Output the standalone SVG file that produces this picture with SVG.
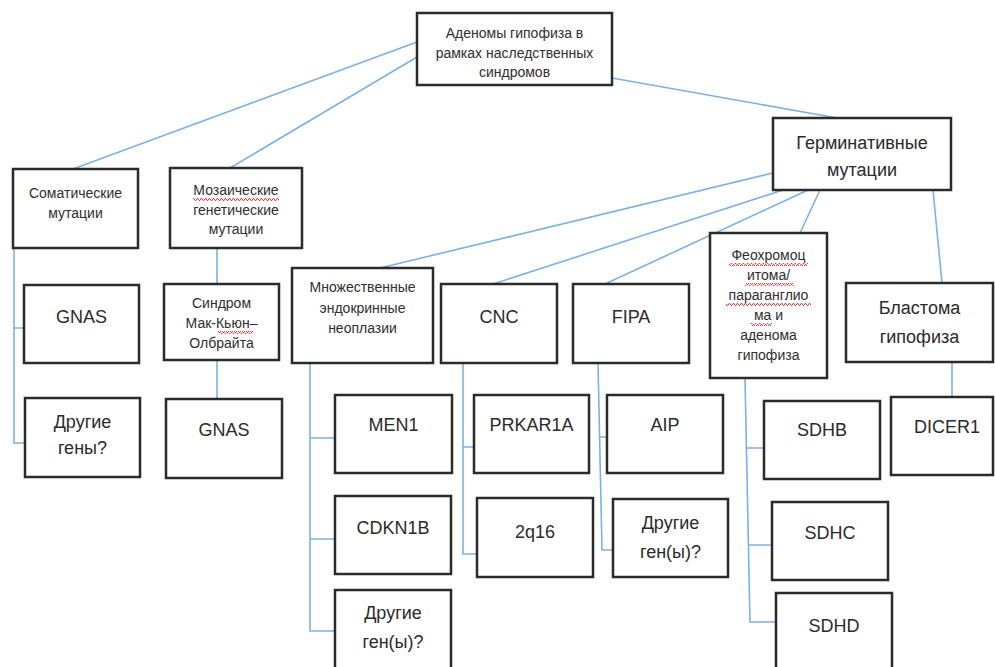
<svg xmlns="http://www.w3.org/2000/svg" width="995" height="667" viewBox="0 0 995 667">
<defs>
<style>
.box{fill:#fff;stroke:#2b2b2b;stroke-width:2.5}
.s{font-family:"Liberation Sans",Arial,sans-serif;font-size:14px;fill:#2e2e2e;text-anchor:middle}
.b{font-family:"Liberation Sans",Arial,sans-serif;font-size:18px;fill:#2a2a2a;text-anchor:middle}
.c{fill:none;stroke:#7eb1e3;stroke-width:1.6}
.sq{fill:url(#wave)}
</style>
<pattern id="wave" patternUnits="userSpaceOnUse" width="4" height="3">
<path d="M0,2.5 L1,0.5 L2,0.5 L3,2.5 L4,2.5" fill="none" stroke="#e03030" stroke-width="0.9"/>
</pattern>
</defs>
<rect width="995" height="667" fill="#fff"/>
<g id="connectors">
<path class="c" d="M417,42 L73,169"/>
<path class="c" d="M417,57 L230,168"/>
<path class="c" d="M612,78 L837,118"/>
<path class="c" d="M14,248 V443 H25 M14,328 H24"/>
<path class="c" d="M217,248 V284 M217,360 V399"/>
<path class="c" d="M773,173 L380,268"/>
<path class="c" d="M783,190 L493,284"/>
<path class="c" d="M808,190 L605,284"/>
<path class="c" d="M820,190 L800,233"/>
<path class="c" d="M933,190 L942,283"/>
<path class="c" d="M310,363 V631 H335 M310,438 H335 M310,539 H335"/>
<path class="c" d="M463,363 V554 H477 M463,447 H474"/>
<path class="c" d="M598,363 L602,550 H613 M600,437 H607"/>
<path class="c" d="M745,378 L750,622 H776 M747,448 H764 M749,545 H772"/>
<path class="c" d="M952,362 V397"/>
</g>
<g id="root"><rect class="box" x="417" y="13" width="195" height="72"/>
<text class="s" x="514.5" y="38">Аденомы гипофиза в</text>
<text class="s" x="514.5" y="58">рамках наследственных</text>
<text class="s" x="514.5" y="77">синдромов</text></g>
<g id="somatic"><rect class="box" x="13" y="169" width="125" height="79"/>
<text class="s" x="75.5" y="198">Соматические</text>
<text class="s" x="75.5" y="218">мутации</text></g>
<g id="mosaic"><rect class="box" x="170" y="168" width="132" height="80"/>
<text class="s" x="236" y="195">Мозаические</text>
<text class="s" x="236" y="215">генетические</text>
<text class="s" x="236" y="234">мутации</text>
<rect class="sq" x="193" y="198" width="86" height="3"/></g>
<g id="germ"><rect class="box" x="773" y="118" width="178" height="72"/>
<text class="b" x="862" y="149">Герминативные</text>
<text class="b" x="862" y="176">мутации</text></g>
<g id="gnas1"><rect class="box" x="24" y="285" width="115" height="78"/>
<text class="b" x="81.5" y="323">GNAS</text></g>
<g id="other1"><rect class="box" x="25" y="398" width="115" height="79"/>
<text class="b" x="82.5" y="428">Другие</text>
<text class="b" x="82.5" y="454">гены?</text></g>
<g id="mccune"><rect class="box" x="164" y="284" width="115" height="76"/>
<text class="s" x="221.5" y="308">Синдром</text>
<text class="s" x="221.5" y="328">Мак-Кьюн–</text>
<text class="s" x="221.5" y="348">Олбрайта</text>
<rect class="sq" x="218" y="331" width="35" height="3"/></g>
<g id="gnas2"><rect class="box" x="166" y="399" width="116" height="79"/>
<text class="b" x="224" y="436">GNAS</text></g>
<g id="men"><rect class="box" x="292" y="268" width="141" height="95"/>
<text class="s" x="362.5" y="292">Множественные</text>
<text class="s" x="362.5" y="313">эндокринные</text>
<text class="s" x="362.5" y="333">неоплазии</text></g>
<g id="cnc"><rect class="box" x="441" y="284" width="116" height="79"/>
<text class="b" x="499" y="323">CNC</text></g>
<g id="fipa"><rect class="box" x="573" y="284" width="116" height="79"/>
<text class="b" x="631" y="323">FIPA</text></g>
<g id="pheo"><rect class="box" x="710" y="233" width="117" height="145"/>
<text class="s" x="768.5" y="260">Феохромоц</text>
<text class="s" x="768.5" y="280">итома/</text>
<text class="s" x="768.5" y="300">параганглио</text>
<text class="s" x="768.5" y="320">ма и</text>
<text class="s" x="768.5" y="340">аденома</text>
<text class="s" x="768.5" y="360">гипофиза</text>
<rect class="sq" x="729" y="263" width="79" height="3"/>
<rect class="sq" x="745" y="283" width="49" height="3"/>
<rect class="sq" x="726" y="303" width="85" height="3"/>
<rect class="sq" x="751" y="323" width="21" height="3"/></g>
<g id="blast"><rect class="box" x="846" y="283" width="147" height="79"/>
<text class="b" x="919.5" y="314">Бластома</text>
<text class="b" x="919.5" y="343">гипофиза</text></g>
<g id="men1"><rect class="box" x="335" y="395" width="117" height="78"/>
<text class="b" x="393.5" y="431">MEN1</text></g>
<g id="cdkn1b"><rect class="box" x="335" y="496" width="116" height="78"/>
<text class="b" x="393" y="534">CDKN1B</text></g>
<g id="other2"><rect class="box" x="335" y="590" width="116" height="90"/>
<text class="b" x="393" y="619">Другие</text>
<text class="b" x="393" y="648">ген(ы)?</text></g>
<g id="prkar1a"><rect class="box" x="474" y="395" width="115" height="78"/>
<text class="b" x="531.5" y="431">PRKAR1A</text></g>
<g id="q16"><rect class="box" x="477" y="498" width="116" height="79"/>
<text class="b" x="535" y="538">2q16</text></g>
<g id="aip"><rect class="box" x="607" y="395" width="116" height="78"/>
<text class="b" x="665" y="431">AIP</text></g>
<g id="other3"><rect class="box" x="613" y="499" width="115" height="78"/>
<text class="b" x="670.5" y="529">Другие</text>
<text class="b" x="670.5" y="558">ген(ы)?</text></g>
<g id="sdhb"><rect class="box" x="764" y="401" width="116" height="78"/>
<text class="b" x="822" y="436">SDHB</text></g>
<g id="sdhc"><rect class="box" x="772" y="502" width="116" height="78"/>
<text class="b" x="830" y="539">SDHC</text></g>
<g id="sdhd"><rect class="box" x="776" y="593" width="116" height="90"/>
<text class="b" x="834" y="632">SDHD</text></g>
<g id="dicer1"><rect class="box" x="891" y="397" width="102" height="78"/>
<text class="b" x="947" y="433">DICER1</text></g>
</svg>
